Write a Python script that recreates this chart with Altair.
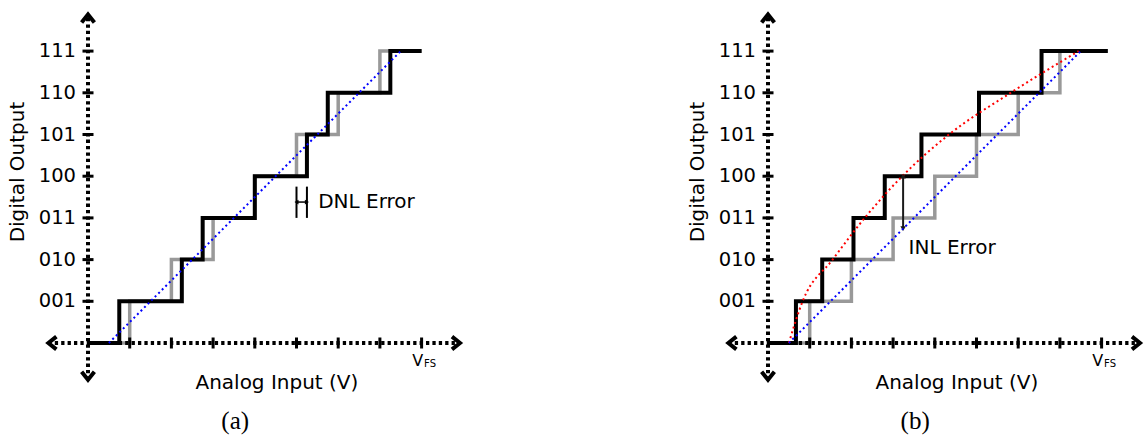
import altair as alt
import pandas as pd

# Output codes on the vertical axis and the input tick positions (in LSB)
codes = ["001", "010", "011", "100", "101", "110", "111"]
code_levels = [1, 2, 3, 4, 5, 6, 7]
input_ticks = [1, 2, 3, 4, 5, 6, 7, 8]

# Ideal 3-bit transfer characteristic (transitions every 1 LSB)
ideal_x = [0, 1, 2, 3, 4, 5, 6, 7, 8]
ideal_y = [0, 1, 2, 3, 4, 5, 6, 7, 7]

# (a) converter with uneven code widths
dnl_x = [0, 0.75, 2.25, 2.75, 4.0, 5.25, 5.75, 7.25, 8.0]
dnl_y = [0, 1, 2, 3, 4, 5, 6, 7, 7]

# (b) converter with a bowed characteristic
inl_x = [0, 0.67, 1.3, 2.05, 2.8, 3.68, 5.06, 6.56, 8.15]
inl_y = [0, 1, 2, 3, 4, 5, 6, 7, 7]

# Straight reference line through the ideal code centres
fit_x = [0.5, 7.5]
fit_y = [0, 7]

# Curve through the centres of the bowed characteristic
bow_x = [0.5, 0.83, 1.55, 2.32, 3.22, 4.34, 5.82, 7.45]
bow_y = [0, 1, 2, 3, 4, 5, 6, 7]

U = 41.7          # pixels per LSB
Y0 = 343          # pixel row of code 000
SANS = "DejaVu Sans"
SERIF = "Liberation Serif"
GRAY = "#999999"
CHEVRON = "M -1 -0.8 L 0 0 L -1 0.8"

ys = alt.Scale(domain=[0, 7], range=[Y0, Y0 - 7 * U])
one = pd.DataFrame({"n": [0]})


def ey(field):
    return alt.Y(field, type="quantitative", scale=ys, axis=None)


def dy(v):
    return alt.YDatum(v, type="quantitative", scale=ys, axis=None)


def panel(x0, steps_x, steps_y, caption, extras):
    xs = alt.Scale(domain=[0, 8], range=[x0, x0 + 8 * U])

    def ex(field):
        return alt.X(field, type="quantitative", scale=xs, axis=None)

    def dx(v):
        return alt.XDatum(v, type="quantitative", scale=xs, axis=None)

    def text(t, x, y, **kw):
        opts = dict(font=SANS, fontSize=20, color="black")
        opts.update(kw)
        return alt.Chart(one).mark_text(**opts).encode(
            x=dx(x), y=dy(y), text=alt.value(t))

    ideal = alt.Chart(pd.DataFrame({"x": ideal_x, "y": ideal_y})).mark_line(
        interpolate="step-after", color=GRAY, strokeWidth=3.5,
        strokeJoin="miter", strokeCap="butt").encode(x=ex("x"), y=ey("y"))

    x_axis = alt.Chart(one).mark_rule(
        color="black", strokeWidth=4, strokeDash=[3.3, 3.1], strokeCap="butt"
    ).encode(x=dx(-0.95), x2=alt.X2Datum(8.92), y=dy(0))
    y_axis = alt.Chart(one).mark_rule(
        color="black", strokeWidth=4, strokeDash=[3.3, 3.1], strokeCap="butt"
    ).encode(x=dx(0), y=dy(-0.88), y2=alt.Y2Datum(7.88))

    x_ticks = alt.Chart(pd.DataFrame({"x": input_ticks})).mark_tick(
        orient="vertical", size=11, thickness=3, color="black", opacity=1
    ).encode(x=ex("x"), y=dy(0))
    y_ticks = alt.Chart(pd.DataFrame({"y": code_levels})).mark_tick(
        orient="horizontal", size=11, thickness=3, color="black", opacity=1
    ).encode(x=dx(0), y=ey("y"))

    def head(x, y, ang):
        return alt.Chart(one).mark_point(
            shape=CHEVRON, size=256, filled=False, strokeWidth=4,
            color="black", opacity=1, angle=ang).encode(x=dx(x), y=dy(y))

    heads = [head(8.92, 0, 0), head(-0.95, 0, 180),
             head(0, 7.88, 270), head(0, -0.88, 90)]

    fit = alt.Chart(pd.DataFrame({"x": fit_x, "y": fit_y})).mark_line(
        color="#0000ff", strokeWidth=2, strokeDash=[2, 3]
    ).encode(x=ex("x"), y=ey("y"))

    actual = alt.Chart(pd.DataFrame({"x": steps_x, "y": steps_y})).mark_line(
        interpolate="step-after", color="black", strokeWidth=4,
        strokeJoin="miter", strokeCap="butt").encode(x=ex("x"), y=ey("y"))

    tick_labels = alt.Chart(pd.DataFrame({"y": code_levels, "t": codes})).mark_text(
        font=SANS, fontSize=19.5, align="right", baseline="middle", dx=-12,
        color="black").encode(x=dx(0), y=ey("y"), text="t:N")

    labels = [
        tick_labels,
        text("Digital Output", -1.68, 4.1, angle=270, baseline="middle"),
        text("Analog Input (V)", 4.53, -0.97, baseline="middle"),
        text("V", 8, -0.545, fontSize=16, align="right", dx=1.5,
             baseline="alphabetic"),
        text("FS", 8, -0.57, fontSize=10, align="left", dx=2.5,
             baseline="alphabetic"),
        text(caption, 3.53, -1.87, font=SERIF, fontSize=25,
             baseline="middle"),
    ]

    extra = extras(ex, dx, text)
    return alt.layer(ideal, x_axis, y_axis, x_ticks, y_ticks, *heads,
                     actual, *extra, fit, *labels)


def dnl_marks(ex, dx, text):
    bars = [alt.Chart(one).mark_rule(color="black", strokeWidth=2).encode(
        x=dx(v), y=dy(3.0), y2=alt.Y2Datum(3.75)) for v in (5.0, 5.25)]
    span = alt.Chart(one).mark_rule(color="black", strokeWidth=1.5).encode(
        x=dx(5.0), x2=alt.X2Datum(5.25), y=dy(3.38))
    left = alt.Chart(one).mark_point(
        shape="triangle-left", size=22, filled=True, color="black",
        opacity=1, dx=2.5).encode(x=dx(5.0), y=dy(3.38))
    right = alt.Chart(one).mark_point(
        shape="triangle-right", size=22, filled=True, color="black",
        opacity=1, dx=-2.5).encode(x=dx(5.25), y=dy(3.38))
    label = text("DNL Error", 5.52, 3.39, align="left", baseline="middle")
    return [*bars, span, left, right, label]


def inl_marks(ex, dx, text):
    bow = alt.Chart(pd.DataFrame({"x": bow_x, "y": bow_y})).mark_line(
        color="#ff0000", strokeWidth=2, strokeDash=[2, 3],
        interpolate="monotone").encode(x=ex("x"), y=ey("y"))
    shaft = alt.Chart(one).mark_rule(color="#1a1a1a", strokeWidth=2).encode(
        x=dx(3.24), y=dy(2.74), y2=alt.Y2Datum(4.0))
    down = alt.Chart(one).mark_point(
        shape="triangle-down", size=30, filled=True, color="#1a1a1a",
        opacity=1, dy=-3).encode(x=dx(3.24), y=dy(2.74))
    up = alt.Chart(one).mark_point(
        shape="triangle-up", size=30, filled=True, color="#1a1a1a",
        opacity=1, dy=3).encode(x=dx(3.24), y=dy(4.0))
    label = text("INL Error", 3.37, 2.28, align="left", baseline="middle")
    return [bow, shaft, down, up, label]


panel_a = panel(88, dnl_x, dnl_y, "(a)", dnl_marks)
panel_b = panel(768, inl_x, inl_y, "(b)", inl_marks)

chart = alt.layer(panel_a, panel_b).resolve_scale(x="independent").properties(
    width=1148, height=437, autosize="none", padding=0, background="white"
).configure_view(stroke=None)

chart.save("out.html", embed_options={"renderer": "svg", "actions": False})
